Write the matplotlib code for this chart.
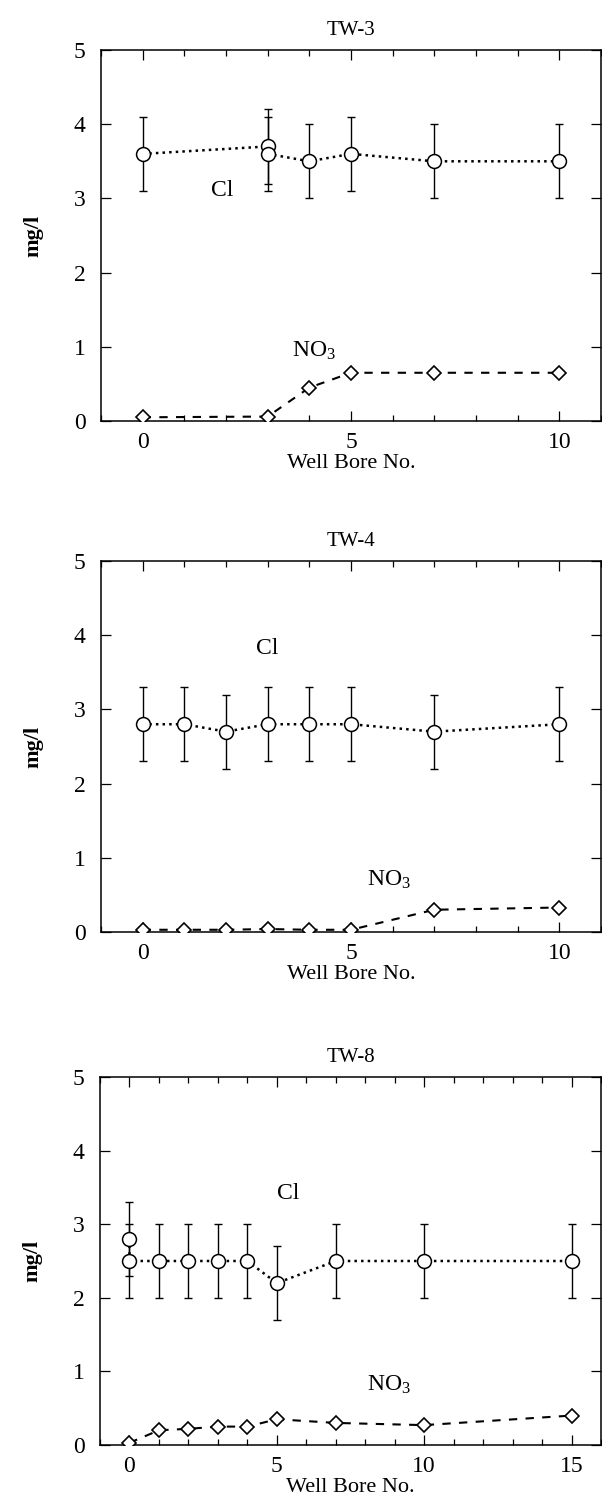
import matplotlib
matplotlib.use("Agg")
import matplotlib.pyplot as plt
from matplotlib.ticker import MultipleLocator

plt.rcParams['font.family'] = ['Liberation Serif', 'DejaVu Serif']
plt.rcParams['mathtext.fontset'] = 'custom'
plt.rcParams['mathtext.rm'] = 'Liberation Serif'
plt.rcParams['mathtext.it'] = 'Liberation Serif:italic'

# TW-3
tw3_cl_x = [0, 3, 3, 4, 5, 7, 10]
tw3_cl_y = [3.6, 3.7, 3.6, 3.5, 3.6, 3.5, 3.5]
tw3_cl_err = [0.5, 0.5, 0.5, 0.5, 0.5, 0.5, 0.5]
tw3_no3_x = [0, 3, 4, 5, 7, 10]
tw3_no3_y = [0.05, 0.06, 0.45, 0.65, 0.65, 0.65]

# TW-4
tw4_cl_x = [0, 1, 2, 3, 4, 5, 7, 10]
tw4_cl_y = [2.8, 2.8, 2.7, 2.8, 2.8, 2.8, 2.7, 2.8]
tw4_cl_err = [0.5, 0.5, 0.5, 0.5, 0.5, 0.5, 0.5, 0.5]
tw4_no3_x = [0, 1, 2, 3, 4, 5, 7, 10]
tw4_no3_y = [0.03, 0.03, 0.03, 0.04, 0.03, 0.03, 0.30, 0.33]

# TW-8
tw8_cl_x = [0, 0, 1, 2, 3, 4, 5, 7, 10, 15]
tw8_cl_y = [2.8, 2.5, 2.5, 2.5, 2.5, 2.5, 2.2, 2.5, 2.5, 2.5]
tw8_cl_err = [0.5, 0.5, 0.5, 0.5, 0.5, 0.5, 0.5, 0.5, 0.5, 0.5]
tw8_no3_x = [0, 1, 2, 3, 4, 5, 7, 10, 15]
tw8_no3_y = [0.03, 0.20, 0.22, 0.25, 0.25, 0.35, 0.30, 0.27, 0.40]

panels = [
    ("TW-3", tw3_cl_x, tw3_cl_y, tw3_cl_err, tw3_no3_x, tw3_no3_y,
     (-1, 11), [0, 5, 10], (1.9, 3.1), (4.1, 0.95)),
    ("TW-4", tw4_cl_x, tw4_cl_y, tw4_cl_err, tw4_no3_x, tw4_no3_y,
     (-1, 11), [0, 5, 10], (3.0, 3.82), (5.9, 0.7)),
    ("TW-8", tw8_cl_x, tw8_cl_y, tw8_cl_err, tw8_no3_x, tw8_no3_y,
     (-1, 16), [0, 5, 10, 15], (5.4, 3.42), (8.8, 0.82)),
]

# axes boxes in pixels: (left, top, right, bottom)
boxes = [(101, 50, 601, 421), (101, 561, 601, 932), (100, 1077, 601, 1445)]

fig = plt.figure(figsize=(6.02, 15.0), dpi=100)
W, H = 602, 1500

for (title, cx, cy, ce, nx, ny, xlim, xticks, cl_pos, no3_pos), (l, t, r, b) in zip(panels, boxes):
    ax = fig.add_axes([l / W, 1 - b / H, (r - l) / W, (b - t) / H])
    ax.errorbar(cx, cy, yerr=ce, fmt='none', ecolor='black', elinewidth=1.0,
                capsize=3, capthick=1.0, zorder=2)
    ax.plot(cx, cy, linestyle=':', color='black', linewidth=1.8,
            marker='o', markersize=10, markerfacecolor='white',
            markeredgecolor='black', markeredgewidth=1.1, zorder=3)
    ax.plot(nx, ny, linestyle='--', dashes=(4, 4), color='black', linewidth=1.5,
            marker='D', markersize=7.5, markerfacecolor='white',
            markeredgecolor='black', markeredgewidth=1.2, zorder=3)
    ax.text(cl_pos[0], cl_pos[1], "Cl", fontsize=17, ha='center', va='center')
    ax.text(no3_pos[0], no3_pos[1], "NO$_3$", fontsize=17, ha='center', va='center')

    ax.set_xlim(*xlim)
    ax.set_ylim(0, 5)
    ax.set_xticks(xticks)
    ax.xaxis.set_minor_locator(MultipleLocator(1))
    ax.set_yticks([0, 1, 2, 3, 4, 5])
    ax.tick_params(which='both', direction='in', top=True, right=True,
                   labelsize=17, width=0.9)
    ax.tick_params(which='major', length=7)
    ax.tick_params(axis='x', which='major', pad=8)
    ax.tick_params(axis='y', which='major', pad=11)
    ax.tick_params(which='minor', length=4)
    for s in ax.spines.values():
        s.set_linewidth(1.1)
    ax.set_title(title, fontsize=15, pad=11)
    ax.set_xlabel("Well Bore No.", fontsize=16, labelpad=1)
    ax.set_ylabel("mg/l", fontsize=16, fontweight='bold', labelpad=22)

fig.savefig("out.png", dpi=100)
